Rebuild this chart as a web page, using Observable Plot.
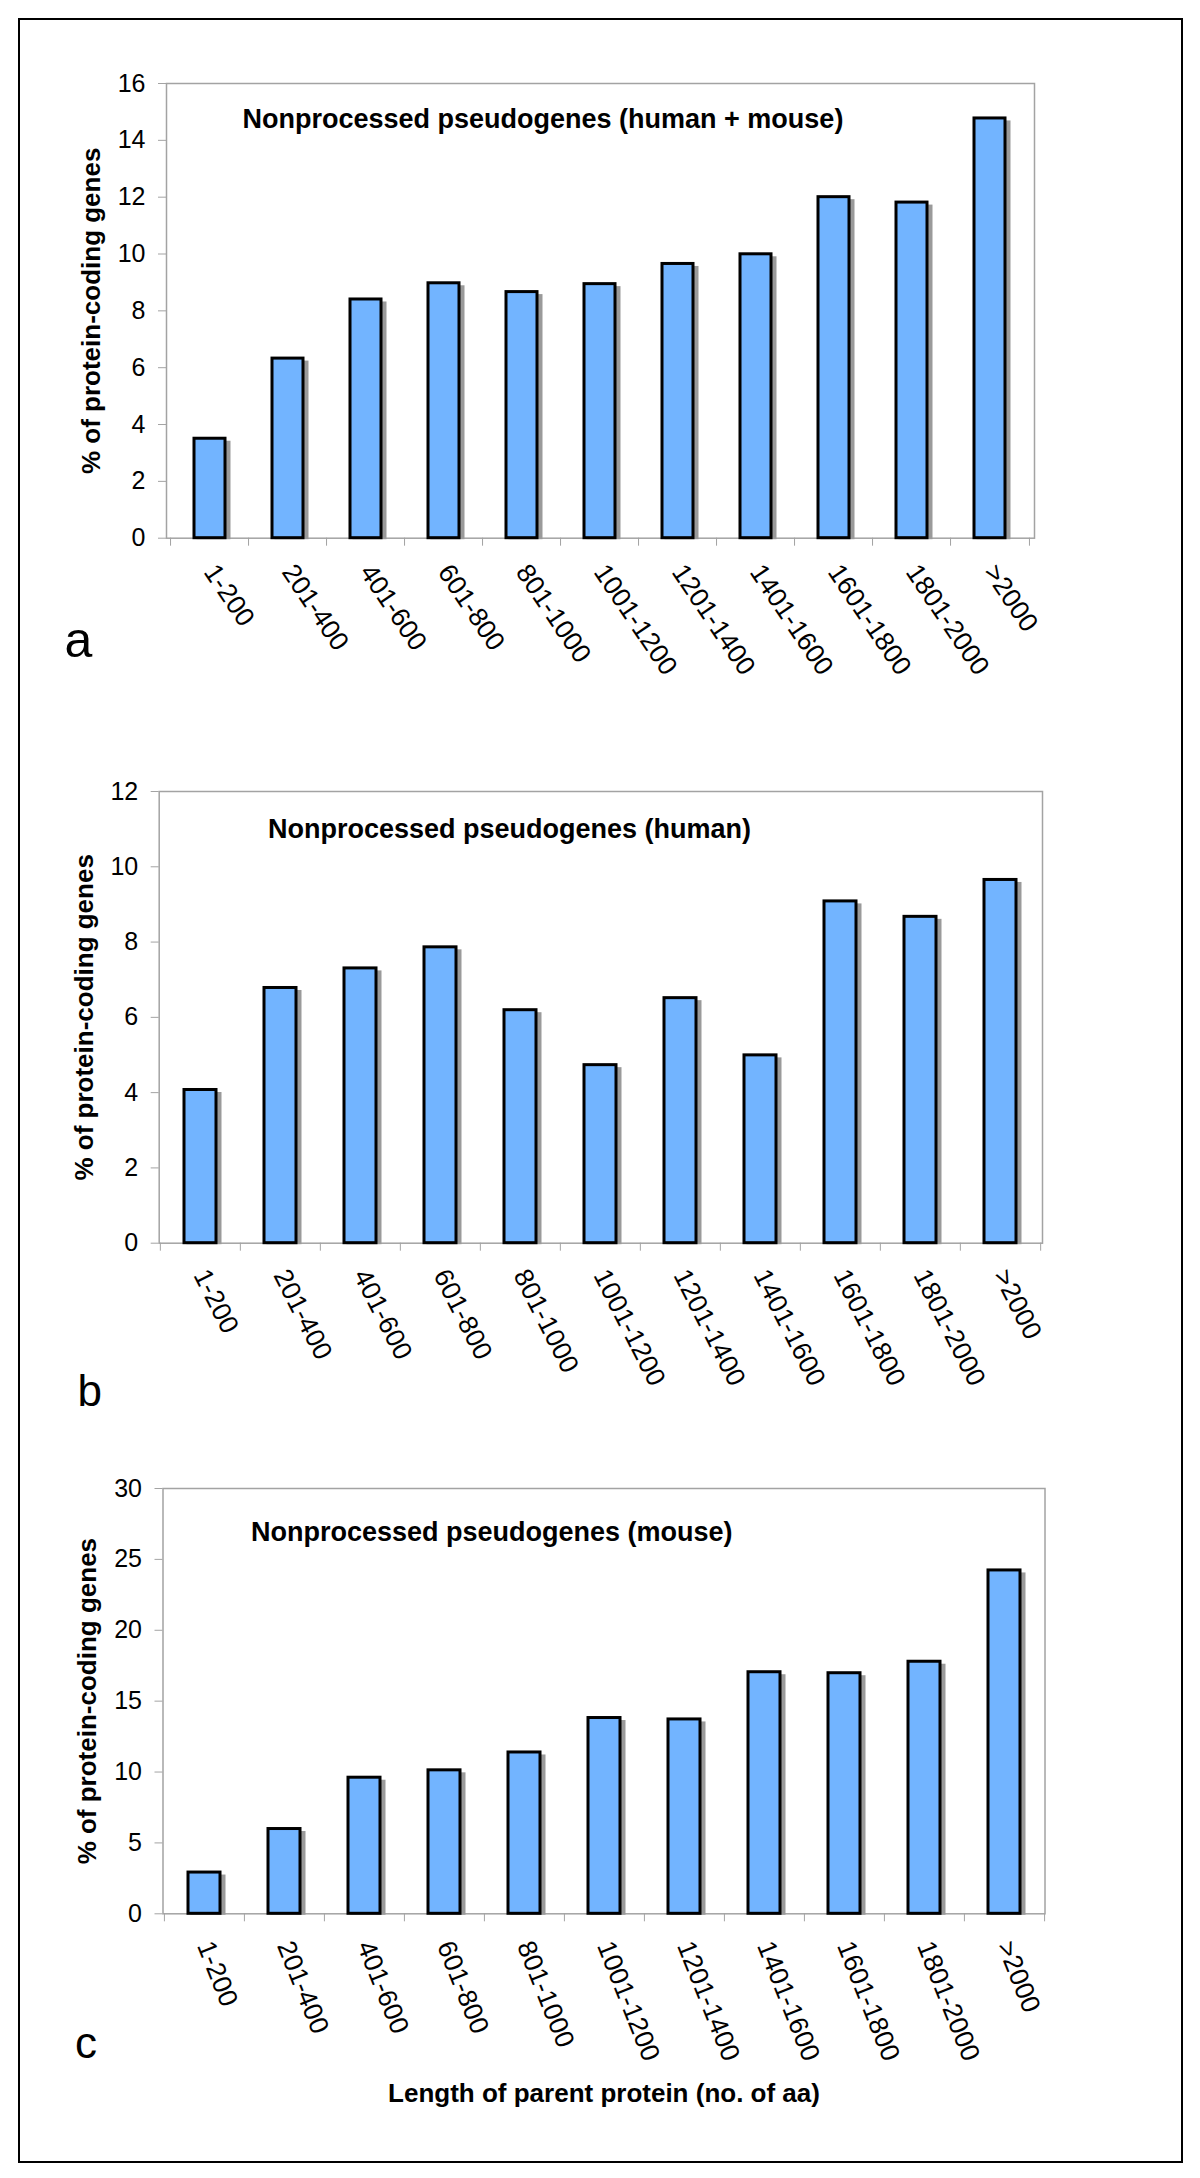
<!DOCTYPE html>
<html>
<head>
<meta charset="utf-8">
<script src="https://cdn.jsdelivr.net/npm/d3@7"></script>
<script src="https://cdn.jsdelivr.net/npm/@observablehq/plot@0.6"></script>
<style>
  body { margin: 0; background: #fff; }
  #page { position: relative; width: 1200px; height: 2178px; overflow: hidden; background: #fff;
          font-family: "Liberation Sans", Arial, sans-serif; }
  #border { position: absolute; left: 18px; top: 18px; width: 1165px; height: 2145px;
            border: 2px solid #000; box-sizing: border-box; }
  .panel { position: absolute; left: 0; }
</style>
</head>
<body>
<div id="page"><div id="border"></div></div>
<script>
// ---- data ----
const categories = ["1-200", "201-400", "401-600", "601-800", "801-1000", "1001-1200",
                    "1201-1400", "1401-1600", "1601-1800", "1801-2000", ">2000"];
const humanMouse = [3.5, 6.32, 8.4, 8.97, 8.66, 8.94, 9.65, 9.99, 12.0, 11.81, 14.77];
const human      = [4.07, 6.78, 7.3, 7.86, 6.19, 4.73, 6.51, 4.99, 9.08, 8.67, 9.65];
const mouse      = [2.91, 5.98, 9.6, 10.12, 11.38, 13.81, 13.71, 17.04, 16.97, 17.78, 24.22];
const ticksA = [0, 2, 4, 6, 8, 10, 12, 14, 16];
const ticksB = [0, 2, 4, 6, 8, 10, 12];
const ticksC = [0, 5, 10, 15, 20, 25, 30];
const titleA = "Nonprocessed pseudogenes (human + mouse)";
const titleB = "Nonprocessed pseudogenes (human)";
const titleC = "Nonprocessed pseudogenes (mouse)";
const yLabel = "% of protein-coding genes";
const xLabel = "Length of parent protein (no. of aa)";

// ---- layout ----
const panels = [
  {values: humanMouse, ticks: ticksA, max: 16, title: titleA, letter: "a",
   top: 0, height: 720, mt: 83, mb: 182.3, ml: 166, mr: 166,
   rotate: 56, tickPad: 29, titleDx: 76, titleDy: 44.3, letterDx: -102, letterDy: 118.3, letterSize: 50},
  {values: human, ticks: ticksB, max: 12, title: titleB, letter: "b",
   top: 730, height: 700, mt: 61, mb: 187.3, ml: 158.7, mr: 158,
   rotate: 63, tickPad: 28, titleDx: 108.7, titleDy: 46, letterDx: -81.7, letterDy: 162.3, letterSize: 44},
  {values: mouse, ticks: ticksC, max: 30, title: titleC, letter: "c", xTitle: xLabel,
   top: 1440, height: 720, mt: 48, mb: 246.7, ml: 162.5, mr: 155.5,
   rotate: 68, tickPad: 28.5, titleDx: 88, titleDy: 52, letterDx: -88, letterDy: 144.2, letterSize: 44}
];

const FONT = '"Liberation Sans", Arial, sans-serif';
const GRAY = "#a3a3a3";
const page = document.getElementById("page");

for (const p of panels) {
  const plotW = 1200 - p.ml - p.mr;
  const step = plotW / categories.length;
  const data = categories.map((c, i) => ({category: c, value: p.values[i]}));
  const marks = [
    Plot.frame({stroke: GRAY, strokeWidth: 1.5}),
    Plot.barY(data, {x: "category", y: "value", fill: "#9a9a9a", stroke: "#9a9a9a", strokeWidth: 3,
                     dx: 4, dy: 4, insetBottom: 4}),
    Plot.barY(data, {x: "category", y: "value", fill: "#72B4FF", stroke: "#000", strokeWidth: 3}),
    Plot.axisY({ticks: p.ticks, tickSize: 8, tickPadding: 13, stroke: GRAY, fontSize: 25, label: null}),
    Plot.axisX({tickSize: 8, tickFormat: () => "", dx: -step / 2, stroke: GRAY, label: null}),
    Plot.axisX([categories[categories.length - 1]], {tickSize: 8, tickFormat: () => "", dx: step / 2, stroke: GRAY, label: null}),
    Plot.axisX({tickSize: 0, tickPadding: p.tickPad, tickRotate: p.rotate, textAnchor: "start",
                lineAnchor: "middle", fontSize: 26.5, label: null}),
    Plot.text([p.title], {text: d => d, frameAnchor: "top-left", textAnchor: "start", lineAnchor: "bottom",
                          dx: p.titleDx, dy: p.titleDy, fontSize: 27, fontWeight: "bold"}),
    Plot.text([yLabel], {text: d => d, frameAnchor: "left", textAnchor: "middle", lineAnchor: "middle",
                         rotate: -90, dx: -75, fontSize: 26, fontWeight: "bold"}),
    Plot.text([p.letter], {text: d => d, frameAnchor: "bottom-left", textAnchor: "start", lineAnchor: "bottom",
                           dx: p.letterDx, dy: p.letterDy, fontSize: p.letterSize})
  ];
  if (p.xTitle) {
    marks.push(Plot.text([p.xTitle], {text: d => d, frameAnchor: "bottom", textAnchor: "middle", lineAnchor: "bottom",
                                      dy: 187.7, fontSize: 26, fontWeight: "bold"}));
  }
  const chart = Plot.plot({
    width: 1200, height: p.height,
    marginTop: p.mt, marginBottom: p.mb, marginLeft: p.ml, marginRight: p.mr,
    style: {fontFamily: FONT, fontSize: "25px", color: "#000", background: "transparent", overflow: "visible"},
    x: {domain: categories, paddingInner: 0.6, paddingOuter: 0.3, label: null, axis: null},
    y: {domain: [0, p.max], label: null, axis: null},
    marks
  });
  chart.classList.add("panel");
  chart.style.top = p.top + "px";
  chart.style.position = "absolute";
  page.appendChild(chart);
}
</script>
</body>
</html>
